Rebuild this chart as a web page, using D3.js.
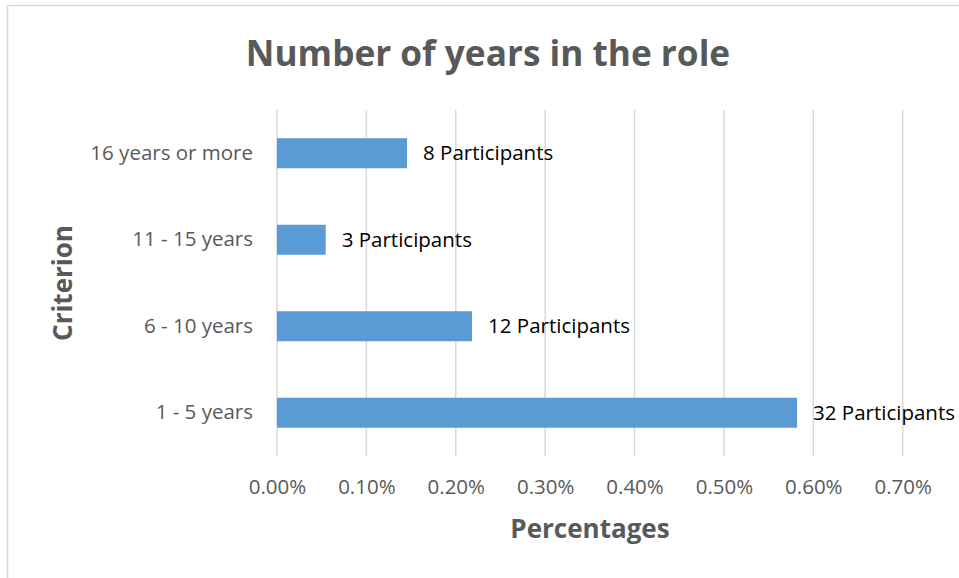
<!DOCTYPE html>
<html>
<head>
<meta charset="utf-8">
<script src="https://cdn.jsdelivr.net/npm/d3@7"></script>
<style>
  html, body { margin: 0; padding: 0; background: #fff; }
  svg { display: block; }
  text { font-family: "Open Sans", "Noto Sans", sans-serif; }
</style>
</head>
<body>
<svg id="chart" width="959" height="578"></svg>
<script>
// Data
const categories = ["16 years or more", "11 - 15 years", "6 - 10 years", "1 - 5 years"];
const percentages = [0.1455, 0.0545, 0.2182, 0.5818]; // in percent units
const participants = [8, 3, 12, 32];
const xTicks = [0, 0.1, 0.2, 0.3, 0.4, 0.5, 0.6, 0.7];

const title = "Number of years in the role";
const xTitle = "Percentages";
const yTitle = "Criterion";

const svg = d3.select("#chart");
const W = 959, H = 578;

// Frame (top + left border)
svg.append("line").attr("x1", 7.5).attr("x2", W).attr("y1", 5.5).attr("y2", 5.5)
  .attr("stroke", "#d9d9d9").attr("stroke-width", 1.5);
svg.append("line").attr("x1", 7.5).attr("x2", 7.5).attr("y1", 5.5).attr("y2", H)
  .attr("stroke", "#d9d9d9").attr("stroke-width", 1.5);

const x = d3.scaleLinear().domain([0, 0.7]).range([277, 902.7]);
const y = d3.scaleBand().domain(categories).range([110, 456]).paddingInner(0.653).paddingOuter(0.3265);

// Gridlines
svg.append("g").selectAll("line").data(xTicks).join("line")
  .attr("x1", d => x(d)).attr("x2", d => x(d))
  .attr("y1", 110).attr("y2", 456)
  .attr("stroke", "#d9d9d9").attr("stroke-width", 1.5);

// Bars
const data = categories.map((c, i) => ({ c, v: percentages[i], n: participants[i] }));
svg.append("g").selectAll("rect").data(data).join("rect")
  .attr("x", x(0)).attr("y", d => y(d.c))
  .attr("width", d => x(d.v) - x(0)).attr("height", y.bandwidth())
  .attr("fill", "#5b9bd5");

// Data labels
svg.append("g").selectAll("text").data(data).join("text")
  .attr("x", d => x(d.v) + 16).attr("y", d => y(d.c) + y.bandwidth() / 2)
  .attr("dy", "0.35em")
  .attr("font-size", 20.5).attr("fill", "#000")
  .text(d => `${d.n} Participants`);

// Y axis category labels
const yAxis = d3.axisLeft(y).tickSize(0).tickPadding(0);
const gy = svg.append("g").attr("transform", `translate(253,0)`).call(yAxis);
gy.select(".domain").remove();
gy.selectAll("text").attr("font-size", 20.5).attr("fill", "#595959")
  .attr("font-family", '"Open Sans", sans-serif');

// X axis tick labels
const xAxis = d3.axisBottom(x).tickValues(xTicks).tickSize(0).tickPadding(0)
  .tickFormat(d => d3.format(".2f")(d) + "%");
const gx = svg.append("g").attr("transform", `translate(0,479.5)`).call(xAxis);
gx.select(".domain").remove();
gx.selectAll("text").attr("font-size", 20.5).attr("fill", "#595959")
  .attr("font-family", '"Open Sans", sans-serif');

// Title
svg.append("text").attr("x", 488).attr("y", 66).attr("text-anchor", "middle")
  .attr("font-size", 35.2).attr("font-weight", "bold").attr("fill", "#595959")
  .text(title);

// Axis titles
svg.append("text").attr("x", 590).attr("y", 538).attr("text-anchor", "middle")
  .attr("font-size", 26).attr("font-weight", "bold").attr("fill", "#595959")
  .text(xTitle);
svg.append("text").attr("transform", "translate(72,283) rotate(-90)")
  .attr("text-anchor", "middle")
  .attr("font-size", 26).attr("font-weight", "bold").attr("fill", "#595959")
  .text(yTitle);
</script>
</body>
</html>
